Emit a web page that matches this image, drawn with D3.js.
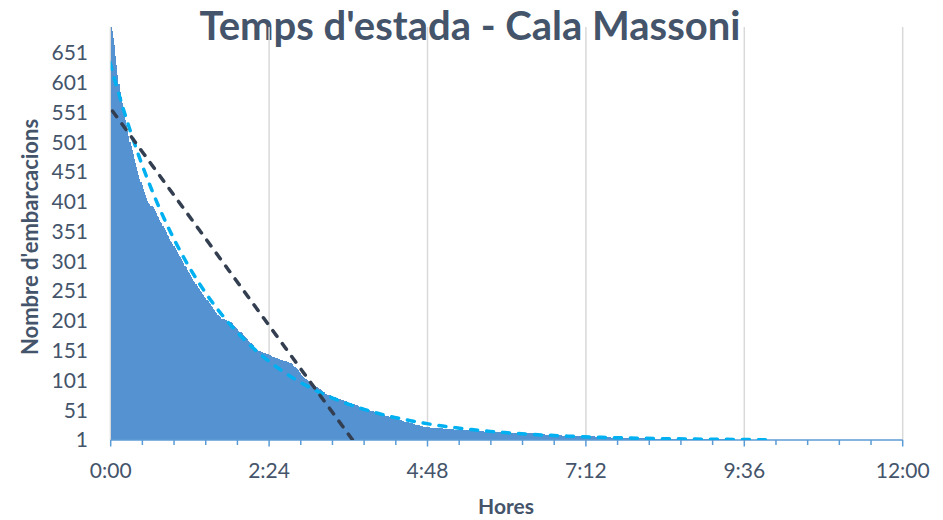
<!DOCTYPE html>
<html>
<head>
<meta charset="utf-8">
<script src="https://cdn.jsdelivr.net/npm/d3@7"></script>
<style>
  body { margin: 0; background: #fff; }
  text { font-family: Lato, 'Open Sans', sans-serif; }
</style>
</head>
<body>
<div id="chart"></div>
<script>
/* global d3 */

// ----------------------------------------
// Data: length of stay (minutes) -> number of boats
// ----------------------------------------
let stayMin = [
  1, 2, 3, 4, 5, 6, 7, 8, 9, 10,
  11, 12, 13, 14, 15, 16, 17, 18, 19, 20,
  21, 22, 23, 24, 25, 26, 27, 28, 29, 30,
  31, 32, 33, 34, 35, 36, 37, 38, 39, 40,
  41, 42, 43, 44, 45, 46, 47, 48, 49, 50,
  51, 52, 53, 54, 55, 56, 57, 58, 59, 60,
  61, 62, 63, 64, 65, 66, 67, 68, 69, 70,
  71, 72, 73, 74, 75, 76, 77, 78, 79, 80,
  81, 82, 83, 84, 85, 86, 87, 88, 89, 90,
  91, 92, 93, 94, 95, 96, 97, 98, 99,
  100, 102, 104, 106, 108, 110,
  111, 112, 113, 114, 115, 116, 117, 118, 119, 120, 121, 122, 123, 124, 125,
  126, 127, 128, 129, 130, 131, 132, 133, 134,
  135, 137, 138, 140, 141, 143, 144, 145, 146, 147, 148,
  149, 150, 152, 154, 155, 157, 159, 160, 162, 164,
  165, 166, 167, 168, 169, 170, 171, 172, 173, 174, 175, 176, 177, 178,
  179, 180, 181, 182, 183, 184, 185, 186, 187, 188, 189, 190, 191, 192, 193, 194, 195
]
let boats = [
  7, 12, 12, 17, 16, 17, 14, 14, 9, 10,
  9, 9, 10, 9, 9, 10, 9, 7, 7, 7,
  7, 7, 7, 7, 7, 6, 6, 5, 6, 5,
  5, 5, 5, 4, 2, 2, 1, 2, 3, 4,
  3, 4, 3, 4, 3, 3, 4, 4, 3, 4,
  4, 3, 4, 3, 3, 3, 3, 3, 3, 4,
  3, 3, 3, 3, 4, 3, 4, 3, 4, 3,
  3, 3, 3, 3, 3, 3, 3, 3, 3, 3,
  2, 3, 3, 2, 3, 2, 3, 2, 3, 2,
  3, 2, 3, 2, 3, 2, 3, 2, 2,
  2, 1, 2, 2, 1, 2,
  2, 2, 2, 2, 2, 2, 2, 1, 2, 2, 2, 2, 2, 2, 2,
  2, 2, 2, 2, 2, 2, 2, 2, 1,
  1, 1, 1, 1, 1, 1, 1, 1, 1, 1, 1,
  1, 1, 1, 1, 1, 1, 1, 1, 1, 1,
  2, 2, 2, 2, 2, 2, 3, 2, 2, 2, 2, 2, 2, 2,
  1, 2, 1, 1, 1, 2, 1, 1, 1, 2, 1, 1, 1, 2, 1, 1, 2
]
// one boat each
let longStays = [
  196, 197, 199, 200, 202, 203, 205, 206, 207, 209, 210, 212, 213, 215, 216,
  218, 219, 221, 222, 224, 225, 226, 227,
  229, 230, 232, 233, 235, 236, 238, 239, 240, 242,
  244, 246, 247, 249, 251, 253, 255, 256, 258, 260, 261, 263,
  265, 267, 269, 271, 273, 275, 277, 279, 281, 282, 284,
  290, 296, 302, 307, 312, 317,
  328, 339, 351,
  362, 374, 386, 395, 399,
  410, 425, 440, 455, 470, 490, 515, 560
]

let hourTicks = [0, 144, 288, 432, 576, 720]
let rankTicks = [1, 51, 101, 151, 201, 251, 301, 351, 401, 451, 501, 551, 601, 651]

let textC = '#44546a'
let barC = '#5592d2'
let gridC = '#d9d9d9'
let axisC = '#5b9bd5'
let linearC = '#333f50'
let logC = '#00b0f0'

var width = 943
var height = 520
var plot = { left: 110.7, right: 902.7, top: 27, bottom: 440 }

var svg = d3.select('#chart').append('svg')
  .attr('width', width)
  .attr('height', height)

// sort stays, longest first -> rank 1 at the bottom
var stays = []
stayMin.forEach((m, i) => { for (let k = 0; k < boats[i]; k++) stays.push(m) })
longStays.forEach(m => stays.push(m))
stays.sort((a, b) => b - a)
var rows = stays.map((v, i) => ({ r: i + 1, v: v }))

var x = d3.scaleLinear().domain([0, 720]).range([plot.left, plot.right])
var y = d3.scaleBand()
  .domain(rows.map(d => d.r))
  .range([plot.bottom, plot.top])
  .paddingInner(0)

function hm (m) {
  let h = Math.floor(m / 60)
  let mm = Math.round(m - h * 60)
  return h + ':' + (mm < 10 ? '0' : '') + mm
}

// ----------------------------------------
// Title
// ----------------------------------------
svg.append('text')
  .attr('x', 470)
  .attr('y', 40)
  .attr('text-anchor', 'middle')
  .style('font-size', '40px')
  .style('font-weight', 'bold')
  .style('fill', textC)
  .text("Temps d'estada - Cala Massoni")

// ----------------------------------------
// Grid
// ----------------------------------------
svg.append('g').selectAll('line')
  .data(hourTicks.slice(1))
  .enter().append('line')
    .attr('x1', d => x(d))
    .attr('x2', d => x(d))
    .attr('y1', plot.top)
    .attr('y2', plot.bottom)
    .style('stroke', gridC)
    .style('stroke-width', 1.5)

svg.append('line')
  .attr('x1', plot.left)
  .attr('x2', plot.left)
  .attr('y1', plot.top)
  .attr('y2', plot.bottom)
  .style('stroke', gridC)
  .style('stroke-width', 2)

// ----------------------------------------
// Bars
// ----------------------------------------
svg.append('g')
  .attr('shape-rendering', 'crispEdges')
  .selectAll('rect')
  .data(rows)
  .enter().append('rect')
    .attr('x', x(0))
    .attr('y', d => y(d.r))
    .attr('width', d => x(d.v) - x(0))
    .attr('height', y.bandwidth())
    .style('fill', barC)

// ----------------------------------------
// Axes
// ----------------------------------------
var xAxis = svg.append('g')
xAxis.append('line')
  .attr('x1', plot.left)
  .attr('x2', plot.right)
  .attr('y1', plot.bottom)
  .attr('y2', plot.bottom)
  .style('stroke', axisC)
  .style('stroke-width', 1.5)

xAxis.selectAll('line.minor')
  .data(d3.range(0, 721, 28.8))
  .enter().append('line')
    .attr('class', 'minor')
    .attr('x1', d => x(d))
    .attr('x2', d => x(d))
    .attr('y1', plot.bottom)
    .attr('y2', d => plot.bottom + (hourTicks.indexOf(Math.round(d)) > -1 ? 6.5 : 5))
    .style('stroke', axisC)
    .style('stroke-width', 1.5)

xAxis.selectAll('text')
  .data(hourTicks)
  .enter().append('text')
    .attr('x', d => x(d))
    .attr('y', 477.5)
    .attr('text-anchor', 'middle')
    .style('font-size', '21px')
    .style('fill', textC)
    .text(d => hm(d))

svg.append('g').selectAll('text')
  .data(rankTicks)
  .enter().append('text')
    .attr('x', 88)
    .attr('y', d => y(d) + y.bandwidth() / 2)
    .attr('dy', '0.36em')
    .attr('text-anchor', 'end')
    .style('font-size', '21px')
    .style('fill', textC)
    .text(d => d)

svg.append('text')
  .attr('x', 506)
  .attr('y', 514)
  .attr('text-anchor', 'middle')
  .style('font-size', '21px')
  .style('font-weight', 'bold')
  .style('fill', textC)
  .text('Hores')

svg.append('text')
  .attr('transform', 'translate(38,237) rotate(-90)')
  .attr('text-anchor', 'middle')
  .style('font-size', '22px')
  .style('font-weight', 'bold')
  .style('fill', textC)
  .text("Nombre d'embarcacions")

// ----------------------------------------
// Trendlines: linear and logarithmic least squares on rank -> minutes
// ----------------------------------------
function fitLine (xs, ys) {
  let mx = d3.mean(xs)
  let my = d3.mean(ys)
  let sxy = d3.sum(xs, (xv, i) => (xv - mx) * (ys[i] - my))
  let sxx = d3.sum(xs, xv => (xv - mx) * (xv - mx))
  let b = sxy / sxx
  return { a: my - b * mx, b: b }
}

var rk = rows.map(d => d.r)
var vals = rows.map(d => d.v)
var lin = fitLine(rk, vals)
var lg = fitLine(rk.map(r => Math.log(r)), vals)

var defs = svg.append('defs')
defs.append('clipPath')
  .attr('id', 'plotClip')
  .append('rect')
    .attr('x', plot.left)
    .attr('y', plot.top)
    .attr('width', plot.right - plot.left)
    .attr('height', plot.bottom - plot.top)

var trend = svg.append('g').attr('clip-path', 'url(#plotClip)')

var line = d3.line()
  .x(d => x(d.v))
  .y(d => y(d.r) + y.bandwidth() / 2)

trend.append('path')
  .datum(rows.map(d => ({ r: d.r, v: lg.a + lg.b * Math.log(d.r) })))
  .attr('d', line)
  .style('fill', 'none')
  .style('stroke', logC)
  .style('stroke-width', 3.5)
  .style('stroke-linecap', 'round')
  .style('stroke-dasharray', '7,9')

trend.append('path')
  .datum(rows.map(d => ({ r: d.r, v: lin.a + lin.b * d.r })))
  .attr('d', line)
  .style('fill', 'none')
  .style('stroke', linearC)
  .style('stroke-width', 3.5)
  .style('stroke-linecap', 'round')
  .style('stroke-dasharray', '7,9')
</script>
</body>
</html>
